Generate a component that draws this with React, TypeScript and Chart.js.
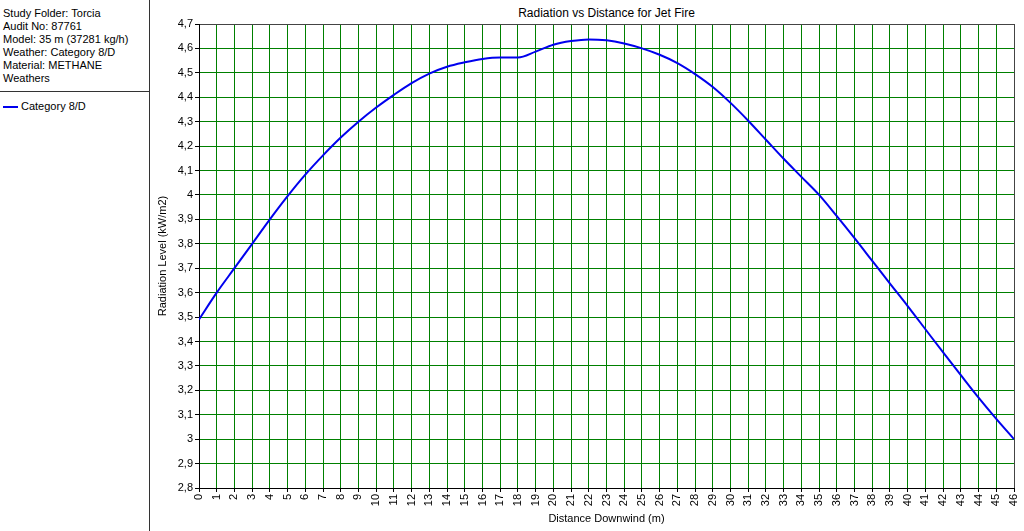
import React, { useEffect, useRef } from "react";
import { Chart, registerables } from "chart.js";

Chart.register(...registerables);

const distances: number[] = [
  0, 1, 2, 3, 4, 5, 6, 7, 8, 9, 10, 11, 12, 13, 14, 15, 16, 17, 18, 19, 20, 21, 22, 23,
  24, 25, 26, 27, 28, 29, 30, 31, 32, 33, 34, 35, 36, 37, 38, 39, 40, 41, 42, 43, 44, 45, 46,
];

const radiation: number[] = [
  3.49, 3.6, 3.7, 3.8, 3.9, 3.995, 4.083, 4.162, 4.235, 4.3, 4.358, 4.41, 4.458, 4.497,
  4.525, 4.543, 4.557, 4.563, 4.563, 4.587, 4.615, 4.63, 4.637, 4.633, 4.62, 4.6, 4.574,
  4.54, 4.495, 4.442, 4.377, 4.304, 4.226, 4.148, 4.074, 4.0, 3.913, 3.823, 3.73, 3.637,
  3.545, 3.45, 3.355, 3.262, 3.17, 3.083, 3.0,
];

const infoLines: string[] = [
  "Study Folder: Torcia",
  "Audit No: 87761",
  "Model: 35 m (37281 kg/h)",
  "Weather: Category 8/D",
  "Material: METHANE",
  "Weathers",
];

const seriesName = "Category 8/D";
const chartTitle = "Radiation vs Distance for Jet Fire";
const yTitle = "Radiation Level (kW/m2)";
const xTitle = "Distance Downwind (m)";
const yMin = 2.8;
const yMax = 4.7;
const xMin = 0;
const xMax = 46;

const FONT = "'Liberation Sans', Arial, sans-serif";

function fmt(v: number): string {
  const r = Math.round(v * 10) / 10;
  return String(r).replace(".", ",");
}

export default function App() {
  const ref = useRef<HTMLCanvasElement | null>(null);

  useEffect(() => {
    if (!ref.current) return;
    const chart = new Chart(ref.current, {
      type: "line",
      data: {
        datasets: [
          {
            label: seriesName,
            data: distances.map((d, i) => ({ x: d, y: radiation[i] })),
            borderColor: "#0000ee",
            borderWidth: 2,
            pointRadius: 0,
            cubicInterpolationMode: "monotone",
            fill: false,
          },
        ],
      },
      options: {
        animation: false,
        responsive: false,
        events: [],
        layout: { padding: { top: 24, right: 10, left: 0, bottom: 0 } },
        plugins: {
          legend: { display: false },
          tooltip: { enabled: false },
          title: { display: false },
        },
        scales: {
          x: {
            type: "linear",
            min: xMin,
            max: xMax,
            afterFit: (s: any) => {
              s.height = 43;
              s.paddingRight = 0;
              s.paddingLeft = 0;
            },
            ticks: {
              stepSize: 1,
              autoSkip: false,
              minRotation: 90,
              maxRotation: 90,
              padding: 2,
              color: "#000",
              font: { family: FONT, size: 11 },
              callback: (v: any) => String(v),
            },
            grid: {
              color: (c: any) =>
                c.tick && Math.abs(c.tick.value - xMax) < 1e-6 ? "#444" : "#008000",
              tickColor: "#000",
              tickLength: 4,
              lineWidth: 1,
            },
            border: { color: "#000", width: 1 },
            title: {
              display: true,
              text: xTitle,
              color: "#000",
              font: { family: FONT, size: 11 },
              padding: { top: 0, bottom: 5 },
            },
          },
          y: {
            type: "linear",
            min: yMin,
            max: yMax,
            afterFit: (s: any) => {
              s.width = 49;
              s.paddingTop = 0;
              s.paddingBottom = 0;
            },
            ticks: {
              stepSize: 0.1,
              padding: 2,
              color: "#000",
              font: { family: FONT, size: 11 },
              callback: (v: any) => fmt(Number(v)),
            },
            grid: {
              color: (c: any) =>
                c.tick && Math.abs(c.tick.value - yMax) < 1e-6 ? "#444" : "#008000",
              tickColor: "#000",
              tickLength: 4,
              lineWidth: 1,
            },
            border: { color: "#000", width: 1 },
            title: {
              display: true,
              text: yTitle,
              color: "#000",
              font: { family: FONT, size: 11 },
              padding: { top: 6, bottom: 0 },
            },
          },
        },
      },
    } as any);
    return () => chart.destroy();
  }, []);

  return (
    <div
      style={{
        position: "fixed",
        left: 0,
        top: 0,
        width: 1024,
        height: 531,
        background: "#fff",
        fontFamily: FONT,
        overflow: "hidden",
      }}
    >
      <div
        style={{
          position: "absolute",
          left: 0,
          top: 0,
          width: 150,
          height: 531,
          borderRight: "1px solid #333",
          boxSizing: "border-box",
        }}
      >
        <div
          style={{
            position: "absolute",
            left: 0,
            top: 0,
            width: 149,
            height: 92,
            borderBottom: "1px solid #333",
            boxSizing: "border-box",
            paddingTop: 7,
            paddingLeft: 3,
            fontSize: 11,
            lineHeight: "13px",
            color: "#000",
          }}
        >
          {infoLines.map((l, i) => (
            <div key={i} style={{ whiteSpace: "nowrap" }}>
              {l}
            </div>
          ))}
        </div>
        <div
          style={{
            position: "absolute",
            left: 3,
            top: 106,
            width: 15,
            height: 2,
            background: "#0000ee",
          }}
        />
        <div
          style={{
            position: "absolute",
            left: 21,
            top: 100,
            fontSize: 11,
            lineHeight: "13px",
            color: "#000",
            whiteSpace: "nowrap",
          }}
        >
          {seriesName}
        </div>
      </div>
      <div
        style={{
          position: "absolute",
          left: 199,
          top: 6,
          width: 815,
          textAlign: "center",
          fontSize: 12,
          lineHeight: "14px",
          color: "#000",
          whiteSpace: "nowrap",
        }}
      >
        {chartTitle}
      </div>
      <canvas
        ref={ref}
        width={874}
        height={531}
        style={{ position: "absolute", left: 150, top: 0, display: "block" }}
      />
    </div>
  );
}
